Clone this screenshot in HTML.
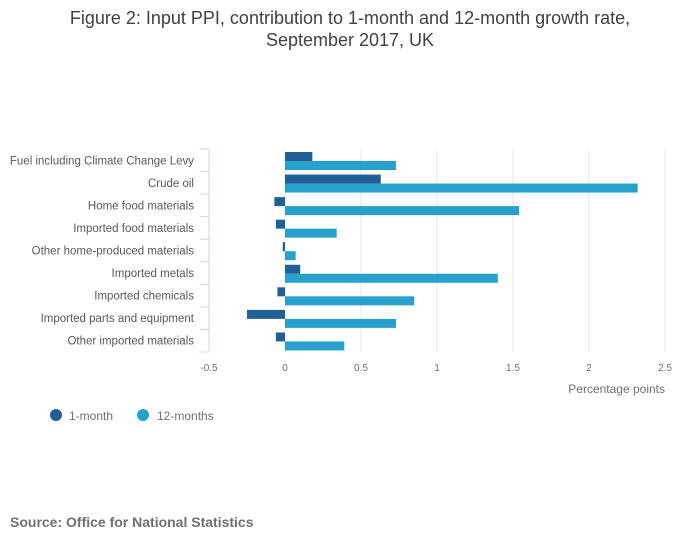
<!DOCTYPE html>
<html><head><meta charset="utf-8"><style>
body{margin:0;background:#fff;}
svg text{font-family:"Liberation Sans",sans-serif;}
</style></head><body>
<svg width="700" height="549" xmlns="http://www.w3.org/2000/svg">
<text x="350" y="24" text-anchor="middle" font-size="18" fill="#414042">Figure 2: Input PPI, contribution to 1-month and 12-month growth rate,</text>
<text x="350" y="46" text-anchor="middle" font-size="18" fill="#414042">September 2017, UK</text>
<g id="plot"></g>
<circle cx="56" cy="415" r="6" fill="#206095"/>
<text x="69" y="420" font-size="12" fill="#707071">1-month</text>
<circle cx="143" cy="415" r="6" fill="#27a0cc"/>
<text x="157" y="420" font-size="12" fill="#707071">12-months</text>
<text x="10" y="527" font-size="14" font-weight="bold" fill="#707071">Source: Office for National Statistics</text>
</svg>
<script>
const categories=["Fuel including Climate Change Levy","Crude oil","Home food materials","Imported food materials","Other home-produced materials","Imported metals","Imported chemicals","Imported parts and equipment","Other imported materials"];
const oneMonth=[0.18,0.63,-0.07,-0.06,-0.015,0.1,-0.05,-0.25,-0.06];
const twelveMonths=[0.73,2.32,1.54,0.34,0.07,1.4,0.85,0.73,0.39];
const ticks=[-0.5,0,0.5,1,1.5,2,2.5];
const tickLabels=["-0.5","0","0.5","1","1.5","2","2.5"];
const NS="http://www.w3.org/2000/svg";
const g=document.getElementById('plot');
const x0=209,x1=665,vmin=-0.5,vmax=2.5,yTop=149,yBot=352;
const xs=v=>x0+(v-vmin)/(vmax-vmin)*(x1-x0);
const rh=(yBot-yTop)/categories.length;
function mk(t,a){const e=document.createElementNS(NS,t);for(const k in a)e.setAttribute(k,a[k]);g.appendChild(e);return e;}
ticks.forEach((t,i)=>{
  if(i>0){const l=mk('line',{x1:xs(t),x2:xs(t),y1:yTop,y2:yBot,stroke:'#e4e4e4'});
  
  }
  const tx=mk('text',{x:xs(t),y:371,'text-anchor':'middle','font-size':10,fill:'#707071'});tx.textContent=tickLabels[i];
  
  
});
const ax=mk('line',{x1:x0,x2:x0,y1:yTop,y2:yBot,stroke:'#ccd6eb'});


for(let i=0;i<=categories.length;i++){const y=yTop+i*rh;const tk=mk('line',{x1:200,x2:x0,y1:y,y2:y,stroke:'#ccd6eb'});

}
categories.forEach((c,i)=>{
  const y=yTop+i*rh;
  const t=mk('text',{x:194,y:y+rh/2+4,'text-anchor':'end','font-size':11.5,fill:'#58595b'});t.textContent=c;
  
  
  [[oneMonth[i],'#206095',3,'bar-1-month'],[twelveMonths[i],'#27a0cc',12,'bar-12-months']].forEach(([v,col,off,nm])=>{
    const a=xs(0),b=xs(v);
    const r=mk('rect',{x:Math.min(a,b),y:y+off,width:Math.abs(b-a),height:9,fill:col});
    
    
  });
});
const at=mk('text',{x:665,y:393,'text-anchor':'end','font-size':12,fill:'#707071'});at.textContent='Percentage points';


</script>
</body></html>
